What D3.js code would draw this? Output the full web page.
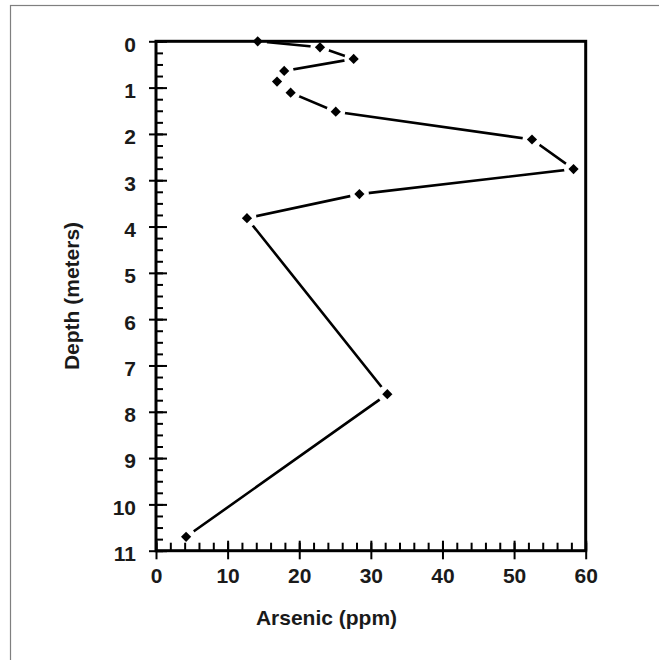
<!DOCTYPE html>
<html>
<head>
<meta charset="utf-8">
<script src="https://cdn.jsdelivr.net/npm/d3@7"></script>
<style>
  body { margin: 0; background: #fff; }
  svg text { font-family: "Liberation Sans", Arial, sans-serif; font-weight: bold; fill: #1a1a1a; }
</style>
</head>
<body>
<svg id="chart"></svg>
<script>
// arsenic concentration (ppm) at each sampled depth (m)
const arsenic = [14.2, 22.9, 27.6, 17.9, 16.9, 18.8, 25.1, 52.5, 58.3, 28.4, 12.7, 32.3, 4.2];
const depth = [0, 0.13, 0.38, 0.64, 0.87, 1.11, 1.52, 2.12, 2.76, 3.30, 3.82, 7.62, 10.70];

const xTicks = [0, 10, 20, 30, 40, 50, 60];
const yTicks = [0, 1, 2, 3, 4, 5, 6, 7, 8, 9, 10, 11];

const width = 659;
const height = 660;
const plot = { left: 156, right: 585.7, top: 41.3, bottom: 550.7 };

const svg = d3.select('#chart')
    .attr('width', width)
    .attr('height', height);

// grey frame around the whole picture (open on right/bottom)
svg.append('rect')
    .attr('x', 10.5).attr('y', 5.5)
    .attr('width', 800).attr('height', 800)
    .attr('fill', 'none')
    .attr('stroke', '#7f7f7f')
    .attr('stroke-width', 1.2);

const x = d3.scaleLinear().domain([0, 60]).range([plot.left, plot.right]);
const y = d3.scaleLinear().domain([0, 11]).range([plot.top, plot.bottom]);

const points = arsenic.map((a, i) => ({ a, d: depth[i] }));

// connecting line
svg.append('path')
    .datum(points)
    .attr('fill', 'none')
    .attr('stroke', '#000')
    .attr('stroke-width', 2.6)
    .attr('d', d3.line().x(p => x(p.a)).y(p => y(p.d)));

// white halo round each marker, leaves a gap in the line
svg.selectAll('.halo')
    .data(points)
    .enter()
    .append('circle')
    .attr('class', 'halo')
    .attr('cx', p => x(p.a))
    .attr('cy', p => y(p.d))
    .attr('r', 9.5)
    .attr('fill', '#fff');

// ticks: y axis (left)
const tickStyle = g => {
    g.select('.domain').remove();
    g.selectAll('.tick line').attr('stroke', '#000').attr('stroke-width', 2);
};

svg.append('g')
    .attr('transform', `translate(${plot.left},0)`)
    .call(d3.axisRight(y).tickValues(d3.range(0, 11.001, 0.25)).tickSize(7).tickFormat(''))
    .call(tickStyle);

svg.append('g')
    .attr('transform', `translate(${plot.left},0)`)
    .call(d3.axisRight(y).tickValues(yTicks).tickSize(11).tickFormat(''))
    .call(tickStyle);

const yAxis = svg.append('g')
    .attr('transform', `translate(${plot.left},0)`)
    .call(d3.axisLeft(y).tickValues(yTicks).tickSize(7).tickPadding(13))
    .call(tickStyle);
yAxis.selectAll('text')
    .attr('font-size', 21)
    .attr('dy', '0.47em')
    .attr('fill', '#1a1a1a');

// ticks: x axis (bottom)
svg.append('g')
    .attr('transform', `translate(0,${plot.bottom})`)
    .call(d3.axisTop(x).tickValues(d3.range(0, 60.001, 2)).tickSize(8).tickFormat(''))
    .call(tickStyle);

svg.append('g')
    .attr('transform', `translate(0,${plot.bottom})`)
    .call(d3.axisTop(x).tickValues(xTicks).tickSize(10).tickFormat(''))
    .call(tickStyle);

const xAxis = svg.append('g')
    .attr('transform', `translate(0,${plot.bottom})`)
    .call(d3.axisBottom(x).tickValues(xTicks).tickSize(8.6).tickPadding(9))
    .call(tickStyle);
xAxis.selectAll('text')
    .attr('font-size', 21)
    .attr('fill', '#1a1a1a');

// plot frame
svg.append('rect')
    .attr('x', plot.left).attr('y', plot.top)
    .attr('width', plot.right - plot.left)
    .attr('height', plot.bottom - plot.top)
    .attr('fill', 'none')
    .attr('stroke', '#000')
    .attr('stroke-width', 3);

// diamond markers
svg.selectAll('.marker')
    .data(points)
    .enter()
    .append('path')
    .attr('class', 'marker')
    .attr('d', d3.symbol(d3.symbolSquare, 52))
    .attr('transform', p => `translate(${x(p.a)},${y(p.d)}) rotate(45)`)
    .attr('fill', '#000');

// axis titles
svg.append('text')
    .attr('x', 326.5)
    .attr('y', 625)
    .attr('text-anchor', 'middle')
    .attr('font-size', 21)
    .text('Arsenic (ppm)');

svg.append('text')
    .attr('transform', `translate(79,${(plot.top + plot.bottom) / 2}) rotate(-90)`)
    .attr('text-anchor', 'middle')
    .attr('font-size', 21)
    .text('Depth (meters)');
</script>
</body>
</html>
